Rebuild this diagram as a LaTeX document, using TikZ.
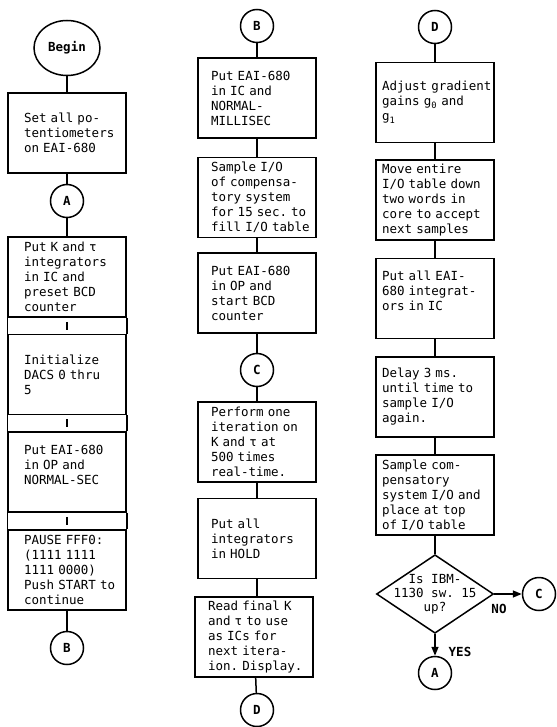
\documentclass[tikz,border=0pt]{standalone}
\usepackage{fontspec}
\setmonofont{DejaVu Sans Mono}
\usetikzlibrary{positioning, shapes.geometric, arrows.meta}
\tikzset{
	procbox/.style={
			draw=black,
			line width=1.5pt,
			minimum height=80pt,
			inner ysep=2pt,
			align=left,
			font=\ttfamily\fontsize{12.5}{15}\selectfont
		},
	colone/.style={
			procbox,
			text width=86pt,
			inner xsep=16pt
		},
	coltwo/.style={
			procbox,
			text width=92pt,
			inner xsep=13pt
		},
	colthree/.style={
			procbox,
			text width=106pt,
			inner xsep=6pt
		},
	connode/.style={
			circle,
			draw=black,
			line width=1.5pt,
			minimum size=33pt,
			inner sep=0pt,
			font=\ttfamily\bfseries\fontsize{12.5}{15}\selectfont
		},
	startnode/.style={
			ellipse,
			draw=black,
			line width=1.5pt,
			minimum width=66pt,
			minimum height=55pt,
			inner sep=0pt,
			font=\ttfamily\bfseries\fontsize{12.5}{15}\selectfont
		},
	decidenode/.style={
			diamond,
			draw=black,
			line width=1.5pt,
			aspect=1.49,
			minimum width=113pt,
			minimum height=76pt,
			inner sep=-5pt,
			align=center,
			font=\ttfamily\fontsize{12.5}{14}\selectfont
		},
	flowline/.style={
			draw=black,
			line width=1.5pt
		},
	flowlabel/.style={
			inner sep=0pt,
			font=\ttfamily\bfseries\fontsize{12.5}{15}\selectfont
		}
}
\begin{document}
\begin{tikzpicture}[x=1pt, y=-1pt]
\useasboundingbox (0,0) rectangle (556,727);

% first column
\node[startnode] (begin) at (67,48) {Begin};
\node[colone] (setpots) at (67,133) {Set all po-\\tentiometers\\on EAI-680};
\node[connode] (conA) at (67,201) {A};
\node[colone] (putK) at (67,277) {Put K and τ\\integrators\\in IC and\\preset BCD\\counter};
\node[colone] (init) at (67,374.5) {Initialize\\DACS 0 thru\\5};
\node[colone] (putop) at (67,472) {Put EAI-680\\in OP and\\NORMAL-SEC\\~};
\node[colone] (pause) at (67,570) {PAUSE FFF0:\\(1111 1111\\1111 0000)\\Push~START~to\\continue};
\node[connode] (conB) at (67,648) {B};

\draw[flowline] (begin) -- (setpots);
\draw[flowline] (setpots) -- (conA);
\draw[flowline] (conA) -- (putK);
\draw[flowline] (putK.south west) -- (init.north west);
\draw[flowline] (putK.south east) -- (init.north east);
\draw[flowline, shorten <=4pt, shorten >=4pt] (putK) -- (init);
\draw[flowline] (init.south west) -- (putop.north west);
\draw[flowline] (init.south east) -- (putop.north east);
\draw[flowline, shorten <=4pt, shorten >=4pt] (init) -- (putop);
\draw[flowline] (putop.south west) -- (pause.north west);
\draw[flowline] (putop.south east) -- (pause.north east);
\draw[flowline, shorten <=4pt, shorten >=4pt] (putop) -- (pause);
\draw[flowline] (pause) -- (conB);

% second column
\node[connode] (conBtop) at (257,26) {B};
\node[coltwo] (putic) at (257,98) {Put EAI-680\\in IC and\\NORMAL-\\MILLISEC};
\node[coltwo] (sample) at (257,197.5) {Sample I/O\\of compensa-\\tory system\\for~15~sec.~to\\fill~I/O~table};
\node[coltwo] (putoptwo) at (257,293) {Put EAI-680\\in OP and\\start BCD\\counter};
\node[connode] (conC) at (257,370) {C};
\node[coltwo] (perform) at (257,442) {Perform one\\iteration on\\K and τ at\\500 times\\real-time.};
\node[coltwo] (hold) at (257,538.5) {Put all\\integrators\\in HOLD};
\node[coltwo] (readK) at (254,637) {Read final K\\and τ to use\\as ICs for\\next itera-\\ion.~Display.};
\node[connode] (conD) at (257,710) {D};

\draw[flowline] (conBtop) -- (putic);
\draw[flowline] (putic) -- (sample);
\draw[flowline] (sample) -- (putoptwo);
\draw[flowline] (putoptwo) -- (conC);
\draw[flowline] (conC) -- (perform);
\draw[flowline] (perform) -- (hold);
\draw[flowline] (hold.south) -- (hold.south |- readK.north);
\draw[flowline] (readK) -- (conD);

% third column
\node[connode] (conDtop) at (435,27) {D};
\node[colthree] (adjust) at (435,102.5) {Adjust~gradient\\gains g\textsubscript{0} and\\g\textsubscript{1}};
\node[colthree] (move) at (435,200) {Move entire\\I/O~table~down\\two words in\\core~to~accept\\next samples};
\node[colthree] (putall) at (435,298.5) {Put all EAI-\\680 integrat-\\ors in IC\\~};
\node[colthree] (delay) at (435,397) {Delay 3 ms.\\until~time~to\\sample I/O\\again.};
\node[colthree] (samplec) at (435,495) {Sample com-\\pensatory\\system~I/O~and\\place at top\\of I/O table};
\node[decidenode] (decide) at (435,594) {Is IBM-\\1130 sw. 15\\up?};
\node[connode] (conCright) at (539,594) {C};
\node[connode] (conAbottom) at (435,673) {A};
\node[flowlabel] (nolabel) at (499,609) {NO};
\node[flowlabel] (yeslabel) at (460,652) {YES};

\draw[flowline] (conDtop) -- (adjust);
\draw[flowline] (adjust) -- (move);
\draw[flowline] (move) -- (putall);
\draw[flowline] (putall) -- (delay);
\draw[flowline] (delay) -- (samplec);
\draw[flowline] (samplec) -- (decide);
\draw[flowline, -{Triangle[length=9pt,width=7pt]}] (decide) -- (conCright);
\draw[flowline, -{Triangle[length=9pt,width=7pt]}] (decide) -- (conAbottom);

\end{tikzpicture}
\end{document}
